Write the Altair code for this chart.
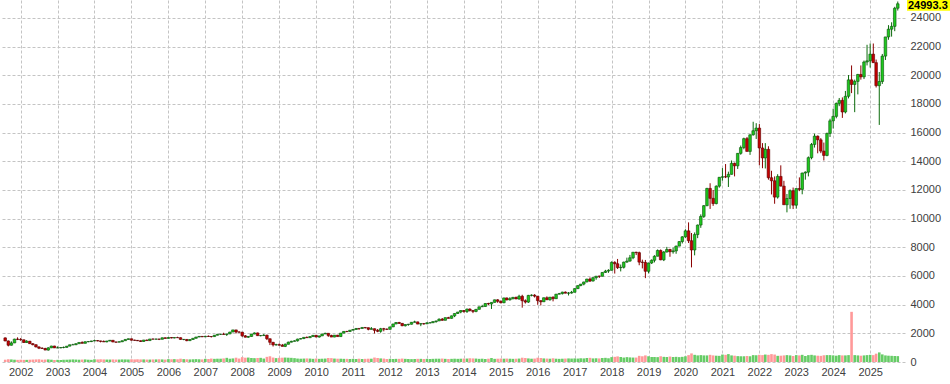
import altair as alt
import pandas as pd

# Monthly candles, Aug 2001 .. Oct 2025
start_month = "2001-08-01"

open_ = [
    1683, 1469, 1169, 1329, 1597,
    1577, 1550, 1359, 1452, 1277, 1208, 1051, 962, 942, 833, 989, 1116,
    984, 985, 1009, 1018, 1106, 1201, 1201, 1276, 1363, 1303, 1416, 1424,
    1468, 1493, 1470, 1438, 1401, 1467, 1516, 1399, 1383, 1412, 1485, 1575,
    1621, 1519, 1509, 1483, 1431, 1534, 1493, 1605, 1595, 1601, 1586, 1690,
    1645, 1707, 1676, 1703, 1697, 1574, 1575, 1489, 1569, 1654, 1743, 1786,
    1756, 1792, 1778, 1772, 1868, 1932, 1935, 1920, 1960, 2091, 2239, 2089,
    2084, 1825, 1729, 1781, 1950, 2028, 1837, 1843, 1873, 1624, 1374, 1195,
    1212, 1170, 1090, 1237, 1383, 1444, 1477, 1601, 1632, 1719, 1693, 1775,
    1860, 1741, 1820, 1953, 2002, 1853, 1741, 1873, 1773, 2016, 2134, 2125,
    2218, 2269, 2340, 2339, 2410, 2393, 2281, 2324, 2207, 2140, 2321, 2293,
    2278, 2449, 2654, 2755, 2695, 2528, 2616, 2633, 2772, 2799, 2647, 2677,
    2660, 2732, 2738, 2819, 2864, 2988, 2910, 3094, 3044, 3219, 3384, 3487,
    3592, 3524, 3694, 3596, 3529, 3675, 3850, 3874, 4082, 4050, 4158, 4338,
    4236, 4136, 4470, 4334, 4415, 4509, 4397, 4585, 4274, 4181, 4648, 4665,
    4593, 4279, 4201, 4483, 4341, 4523, 4417, 4731, 4771, 4875, 4801, 4810,
    4864, 5118, 5330, 5436, 5584, 5788, 5647, 5880, 5988, 5981, 6248, 6345,
    6396, 6950, 6854, 6581, 6605, 6967, 7040, 7272, 7660, 7627, 6967, 6949,
    6330, 6907, 7097, 7378, 7781, 7128, 7672, 7848, 7692, 7750, 8084, 8403,
    8733, 9150, 8462, 7813, 8890, 9555, 10157, 10905, 12110, 11418, 11052, 12268,
    12888, 12925, 12909, 13091, 13860, 13687, 14555, 14960, 15582, 14690, 15850, 16135,
    16320, 14931, 14237, 14838, 12855, 12643, 11504, 12947, 12272, 10971, 11406, 11951,
    10940, 12101, 12042, 13182, 13246, 14254, 15179, 15758, 15501, 14715, 14410, 15947,
    16826, 17137, 18044, 18255, 17441, 18537, 19683, 19363, 19575, 20061, 19890, 20930,
    21012, 21478, 20884, 19278, 19571, 21341, 22679, 23218, 23415, 24680,
]

high = [
    1713, 1500, 1440, 1620, 1720,
    1675, 1560, 1520, 1460, 1320, 1225, 1090, 1030, 990, 1030, 1130, 1130,
    1090, 1030, 1080, 1110, 1210, 1270, 1300, 1370, 1440, 1430, 1450, 1475,
    1560, 1530, 1480, 1500, 1470, 1520, 1520, 1410, 1440, 1490, 1580, 1630,
    1625, 1560, 1530, 1500, 1540, 1560, 1610, 1630, 1620, 1620, 1700, 1710,
    1740, 1730, 1720, 1760, 1710, 1600, 1590, 1580, 1660, 1750, 1800, 1800,
    1820, 1850, 1800, 1880, 1940, 1960, 2040, 1970, 2100, 2240, 2240, 2150,
    2090, 1880, 1800, 1960, 2060, 2050, 1880, 1950, 1900, 1630, 1400, 1270,
    1290, 1260, 1290, 1420, 1480, 1510, 1620, 1660, 1730, 1780, 1800, 1880,
    1890, 1830, 1970, 2040, 2010, 1900, 1880, 1890, 2020, 2140, 2170, 2230,
    2300, 2370, 2360, 2420, 2430, 2400, 2440, 2330, 2300, 2380, 2380, 2340,
    2450, 2660, 2790, 2800, 2710, 2620, 2660, 2780, 2880, 2810, 2690, 2720,
    2770, 2780, 2830, 2880, 3040, 3070, 3100, 3150, 3240, 3390, 3490, 3600,
    3620, 3720, 3740, 3610, 3690, 3860, 3990, 4090, 4130, 4160, 4350, 4380,
    4290, 4480, 4490, 4520, 4540, 4560, 4690, 4690, 4370, 4680, 4720, 4730,
    4600, 4300, 4490, 4580, 4530, 4580, 4750, 4820, 4900, 4920, 4880, 4960,
    5140, 5340, 5440, 5600, 5800, 5900, 5920, 6000, 6020, 6260, 6430, 6470,
    7020, 7030, 7190, 6800, 7000, 7280, 7470, 7670, 7690, 7700, 7140, 7120,
    6930, 7160, 7450, 7850, 7850, 7740, 8030, 7900, 7980, 8120, 8420, 8780,
    9260, 9740, 9000, 9040, 9590, 10300, 10950, 12150, 12470, 12000, 12320, 12900,
    13530, 13810, 13280, 14060, 13910, 14570, 15100, 15650, 15700, 15880, 16760, 16660,
    16600, 15270, 15270, 15050, 13340, 12950, 13100, 13720, 12640, 11720, 12040, 12170,
    12100, 12880, 13210, 13300, 14340, 15280, 15930, 15800, 15620, 15310, 16000, 16970,
    17670, 18100, 18420, 18460, 18910, 20020, 20690, 19700, 20100, 20690, 21030, 22130,
    22220, 22220, 21100, 20230, 21490, 22680, 23500, 23700, 24780, 25150,
]

low = [
    1450, 1090, 1150, 1320, 1530,
    1480, 1330, 1340, 1260, 1160, 1020, 900, 910, 830, 795, 970, 975,
    970, 960, 960, 1010, 1100, 1190, 1190, 1270, 1300, 1300, 1380, 1390,
    1460, 1440, 1370, 1400, 1380, 1440, 1380, 1340, 1380, 1390, 1480, 1560,
    1500, 1490, 1460, 1400, 1420, 1490, 1490, 1570, 1560, 1530, 1580, 1640,
    1640, 1650, 1650, 1690, 1560, 1520, 1450, 1470, 1560, 1640, 1730, 1740,
    1750, 1760, 1710, 1770, 1860, 1900, 1910, 1820, 1940, 2080, 1990, 2040,
    1750, 1720, 1680, 1770, 1940, 1830, 1790, 1830, 1530, 1180, 1080, 1140,
    1150, 1090, 1040, 1230, 1370, 1440, 1430, 1580, 1600, 1690, 1690, 1760,
    1740, 1700, 1820, 1950, 1750, 1740, 1730, 1770, 1770, 2010, 2080, 2120,
    2200, 2260, 2230, 2320, 2330, 2210, 2270, 1990, 2080, 2040, 2140, 2230,
    2270, 2440, 2640, 2650, 2500, 2480, 2530, 2620, 2760, 2640, 2500, 2600,
    2660, 2690, 2720, 2740, 2860, 2880, 2910, 3040, 3030, 3130, 3350, 3400,
    3440, 3420, 3520, 3410, 3470, 3660, 3840, 3860, 3980, 3700, 4150, 4130,
    4090, 4100, 4300, 4290, 4370, 4390, 4340, 3790, 4080, 4120, 4580, 4500,
    3990, 3950, 4190, 4330, 4280, 4230, 4400, 4720, 4710, 4790, 4640, 4770,
    4860, 5090, 5290, 5350, 5560, 5580, 5620, 5740, 5860, 5970, 6210, 6220,
    6390, 6170, 6490, 6320, 6520, 6930, 7000, 7170, 7460, 6750, 6530, 5850,
    6180, 6840, 6950, 7370, 7100, 7040, 7640, 7340, 7560, 7550, 8080, 8270,
    8660, 8300, 6600, 7440, 8640, 9360, 10050, 10870, 10680, 10890, 11000, 12160,
    12650, 12830, 12210, 13080, 12950, 13470, 14460, 14840, 14690, 14450, 15790, 15560,
    13720, 13520, 13500, 12720, 11690, 11040, 11400, 12250, 10970, 10440, 10690, 10670,
    10700, 11920, 11700, 12720, 12950, 14140, 14960, 14560, 14570, 14060, 14350, 15700,
    16290, 17000, 17850, 17030, 17340, 18390, 18760, 17430, 18670, 19700, 19740, 20690,
    20540, 20860, 19150, 16540, 19400, 21070, 22480, 22700, 23080, 24520,
]

close = [
    1469, 1169, 1329, 1597, 1577,
    1550, 1359, 1452, 1277, 1208, 1051, 962, 942, 833, 989, 1116, 984,
    985, 1009, 1018, 1106, 1201, 1201, 1276, 1363, 1303, 1416, 1424, 1468,
    1493, 1470, 1438, 1401, 1467, 1516, 1399, 1383, 1412, 1485, 1575, 1621,
    1519, 1509, 1483, 1431, 1534, 1493, 1605, 1595, 1601, 1586, 1690, 1645,
    1707, 1676, 1703, 1697, 1574, 1575, 1489, 1569, 1654, 1743, 1786, 1756,
    1792, 1778, 1772, 1868, 1932, 1935, 1920, 1960, 2091, 2239, 2089, 2084,
    1825, 1729, 1781, 1950, 2028, 1837, 1843, 1873, 1624, 1374, 1195, 1212,
    1170, 1090, 1237, 1383, 1444, 1477, 1601, 1632, 1719, 1693, 1775, 1860,
    1741, 1820, 1953, 2002, 1853, 1741, 1873, 1773, 2016, 2134, 2125, 2218,
    2269, 2340, 2339, 2410, 2393, 2281, 2324, 2207, 2140, 2321, 2293, 2278,
    2449, 2654, 2755, 2695, 2528, 2616, 2633, 2772, 2799, 2647, 2677, 2660,
    2732, 2738, 2819, 2864, 2988, 2910, 3094, 3044, 3219, 3384, 3487, 3592,
    3524, 3694, 3596, 3529, 3675, 3850, 3874, 4082, 4050, 4158, 4338, 4236,
    4136, 4470, 4334, 4415, 4509, 4397, 4585, 4274, 4181, 4648, 4665, 4593,
    4279, 4201, 4483, 4341, 4523, 4417, 4731, 4771, 4875, 4801, 4810, 4864,
    5118, 5330, 5436, 5584, 5788, 5647, 5880, 5988, 5981, 6248, 6345, 6396,
    6950, 6854, 6581, 6605, 6967, 7040, 7272, 7660, 7627, 6967, 6949, 6330,
    6907, 7097, 7378, 7781, 7128, 7672, 7848, 7692, 7750, 8084, 8403, 8733,
    9150, 8462, 7813, 8890, 9555, 10157, 10905, 12110, 11418, 11052, 12268, 12888,
    12925, 12909, 13091, 13860, 13687, 14555, 14960, 15582, 14690, 15850, 16135, 16320,
    14931, 14237, 14838, 12855, 12643, 11504, 12947, 12272, 10971, 11406, 11951, 10940,
    12101, 12042, 13182, 13246, 14254, 15179, 15758, 15501, 14715, 14410, 15947, 16826,
    17137, 18044, 18255, 17441, 18537, 19683, 19363, 19575, 20061, 19890, 20930, 21012,
    21478, 20884, 19278, 19571, 21341, 22679, 23218, 23415, 24680, 24993.3,
]

volume = [
    160, 200, 180, 160, 150,
    160, 150, 150, 160, 170, 180, 190, 160, 170, 180, 160, 140,
    150, 140, 150, 160, 170, 180, 170, 160, 170, 180, 160, 150,
    190, 180, 190, 180, 170, 170, 180, 170, 170, 180, 180, 170,
    190, 180, 190, 180, 180, 170, 170, 180, 180, 190, 180, 170,
    200, 190, 200, 190, 230, 200, 190, 180, 190, 200, 190, 180,
    220, 210, 240, 220, 230, 230, 250, 290, 230, 250, 300, 240,
    340, 300, 310, 280, 270, 280, 290, 240, 360, 400, 310, 270,
    290, 300, 310, 300, 290, 270, 240, 230, 240, 250, 240, 220,
    240, 220, 230, 240, 280, 270, 240, 230, 230, 220, 220, 210,
    220, 210, 230, 210, 220, 230, 230, 310, 280, 250, 240, 210,
    220, 210, 220, 220, 240, 220, 210, 200, 210, 220, 220, 210,
    220, 210, 220, 230, 230, 240, 220, 210, 220, 230, 220, 230,
    240, 240, 260, 250, 240, 220, 230, 210, 230, 280, 220, 230,
    240, 230, 240, 230, 220, 230, 240, 300, 280, 250, 230, 240,
    300, 280, 250, 240, 230, 260, 230, 220, 230, 240, 250, 240,
    250, 240, 260, 250, 280, 290, 250, 260, 250, 280, 290, 260,
    340, 360, 390, 350, 310, 340, 320, 310, 310, 430, 400, 460,
    400, 350, 350, 340, 400, 360, 350, 380, 350, 360, 340, 360,
    400, 480, 600, 500, 460, 480, 460, 460, 500, 460, 440, 430,
    520, 500, 550, 460, 440, 410, 400, 400, 420, 400, 480, 470,
    500, 480, 520, 500, 550, 520, 430, 440, 460, 480, 460, 420,
    480, 460, 500, 420, 480, 500, 460, 440, 430, 470, 480, 480,
    460, 440, 480, 460, 460, 480, 3500, 480, 460, 440, 460, 480,
    500, 480, 580, 670, 530, 460, 440, 430, 420, 410,
]

year_labels = list(range(2002, 2026))
price_ticks = list(range(0, 24001, 2000))
last_value = 24993.3

dates = pd.date_range(start_month, periods=len(close), freq="MS")
df = pd.DataFrame({
    "date": dates, "open": open_, "high": high, "low": low,
    "close": close, "volume": volume,
})
df["dir"] = ["up" if c >= o else "down" for o, c in zip(open_, close)]

label_df = pd.DataFrame({"v": [last_value], "t": [f"{last_value}"]})

FONT = "Liberation Sans"
x_scale = alt.Scale(domain=[alt.DateTime(year=2001, month=7, date=30),
                            alt.DateTime(year=2025, month=10, date=23)])
y_scale = alt.Scale(domain=[0, 25255], nice=False, zero=True)

x_axis = alt.Axis(
    values=[alt.DateTime(year=y, month=1, date=1) for y in year_labels],
    format="%Y", grid=True, gridColor="#c4c4c4", gridDash=[3, 2], gridWidth=1,
    domain=False, ticks=False, labelColor="#404040", labelFontSize=11,
    labelFont=FONT, labelPadding=4, labelFlush=False, labelOverlap=False, title=None,
)
y_axis = alt.Axis(
    orient="right", values=price_ticks, format="d", grid=True, gridColor="#c4c4c4",
    gridDash=[3, 2], gridWidth=1, domain=False, ticks=False,
    labelColor="#404040", labelFontSize=11, labelFont=FONT, labelPadding=5,
    title=None,
)


def X():
    return alt.X("date:T", scale=x_scale, axis=x_axis)


def Y(field):
    return alt.Y(field, scale=y_scale, axis=y_axis)


base = alt.Chart(df)

vol = base.mark_bar(width=2.6).encode(
    x=X(),
    y=Y("volume:Q"),
    color=alt.condition(alt.datum.dir == "up", alt.value("#66cc66"), alt.value("#ff9999")),
)

wick = base.mark_rule(strokeWidth=1).encode(
    x=X(),
    y=Y("low:Q"),
    y2="high:Q",
    color=alt.condition(alt.datum.dir == "up", alt.value("#0b6b0b"), alt.value("#8b0000")),
)

body = base.mark_bar(width=2.6, strokeWidth=0.6).encode(
    x=X(),
    y=Y("open:Q"),
    y2="close:Q",
    fill=alt.condition(alt.datum.dir == "up", alt.value("#1ec81e"), alt.value("#c40000")),
    stroke=alt.condition(alt.datum.dir == "up", alt.value("#0a4f0a"), alt.value("#5a0000")),
)

tag_box = alt.Chart(label_df).mark_tick(
    orient="horizontal", thickness=14, size=48, color="#ffff00", opacity=1
).encode(
    y=Y("v:Q"),
    x=alt.value(931),
)

tag_text = alt.Chart(label_df).mark_text(
    align="left", baseline="middle", font=FONT, fontSize=11,
    fontWeight="bold", color="#000000", dy=2,
).encode(
    y=Y("v:Q"),
    x=alt.value(908),
    text="t:N",
)

chart = alt.layer(vol, wick, body, tag_box, tag_text).properties(
    width=905, height=362,
    autosize=alt.AutoSizeParams(type="none"),
    padding={"left": 0, "right": 45, "top": 0, "bottom": 22},
    background="white",
).configure_view(stroke=None)

chart.save("out.html", embed_options={"renderer": "svg", "actions": False})
